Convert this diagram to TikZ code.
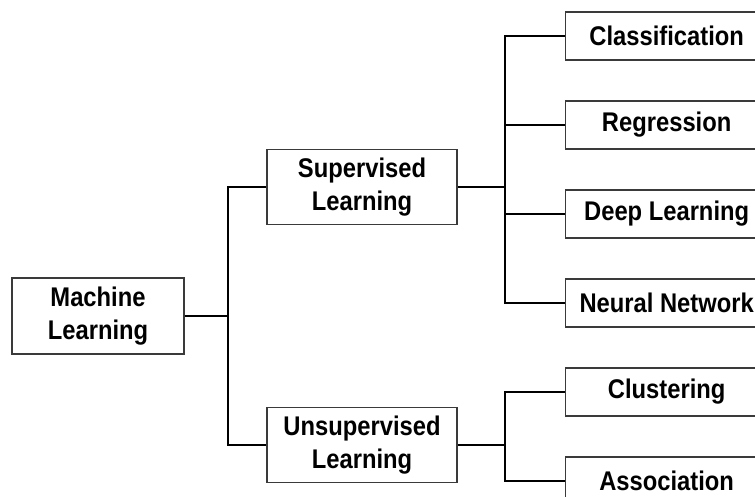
\documentclass[tikz,border=0pt]{standalone}
\usepackage{xcolor}
\usepackage{fontspec}
\setmainfont{Liberation Sans}[FakeStretch=0.88]
\usepackage{tikz}
\usetikzlibrary{positioning}
\definecolor{boxline}{HTML}{3A3A3A}

\tikzset{
  mlbox/.style={draw=boxline, line width=1.3pt, fill=white, align=center,
    font=\fontsize{27}{33}\selectfont\bfseries, inner sep=0pt},
  leafbox/.style={mlbox, anchor=west, minimum width=202pt, minimum height=48pt},
  link/.style={draw=black, line width=1.3pt}
}

\begin{document}
\begin{tikzpicture}[x=1pt, y=-1pt]
    \useasboundingbox (0,0) rectangle (755,497);
    \clip (0,0) rectangle (755,497);
    % root and first level
    \node[mlbox, minimum width=172pt, minimum height=76pt] (ml) at (98,316)
      {Machine\\Learning};
    \node[mlbox, minimum width=190pt, minimum height=75pt] (sup) at (362,187)
      {Supervised\\Learning};
    \node[mlbox, minimum width=190pt, minimum height=75pt] (unsup) at (362,445)
      {Unsupervised\\Learning};
    % leaves
    \node[leafbox] (cls) at (565,36) {Classification};
    \node[leafbox] (reg) at (565,125) {Regression};
    \node[leafbox] (deep) at (565,214) {Deep Learning};
    \node[leafbox] (nn) at (565,303) {Neural Network};
    \node[leafbox] (clu) at (565,392) {Clustering};
    \node[leafbox] (assoc) at (565,481) {Association};
    % junctions
    \coordinate (jroot) at (228,316);
    \coordinate (jsup) at (505,187);
    \coordinate (junsup) at (505,445);
    \draw[link] (ml.east) -- (jroot);
    \draw[link] (jroot) |- (sup.west);
    \draw[link] (jroot) |- (unsup.west);
    \draw[link] (sup.east) -- (jsup);
    \foreach \leaf in {cls, reg, deep, nn}
      \draw[link] (jsup) |- (\leaf.west);
    \draw[link] (unsup.east) -- (junsup);
    \foreach \leaf in {clu, assoc}
      \draw[link] (junsup) |- (\leaf.west);
  \end{tikzpicture}
\end{document}
